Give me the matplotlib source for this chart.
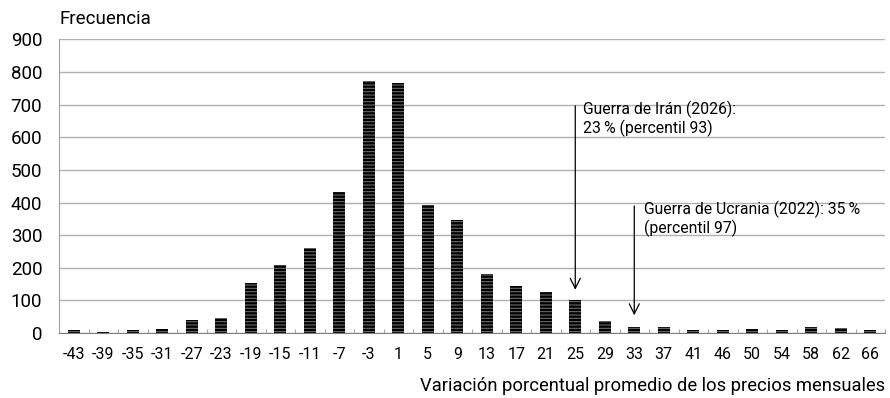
import matplotlib
matplotlib.use("Agg")
import matplotlib.pyplot as plt
import numpy as np

plt.rcParams['font.family'] = ['Roboto', 'DejaVu Sans']
plt.rcParams['hatch.linewidth'] = 0.75

categories = ["-43", "-39", "-35", "-31", "-27", "-23", "-19", "-15", "-11", "-7", "-3", "1", "5", "9",
              "13", "17", "21", "25", "29", "33", "37", "41", "46", "50", "54", "58", "62", "66"]
frequencies = [10, 3, 10, 13, 41, 45, 152, 207, 260, 432, 773, 768, 392, 347,
               182, 145, 125, 100, 36, 18, 17, 9, 10, 11, 9, 17, 15, 8]
y_ticks = [0, 100, 200, 300, 400, 500, 600, 700, 800, 900]

iran_label = "Guerra de Irán (2026):\n23\u2009% (percentil 93)"
iran_cat = "25"
ukr_label = "Guerra de Ucrania (2022): 35\u2009%\n(percentil 97)"
ukr_cat = "33"

fig = plt.figure(figsize=(8.9, 3.98), dpi=100)
ax = fig.add_axes([0.0663, 0.1633, 0.9281, 0.7375])

x = np.arange(len(categories))
ax.bar(x, frequencies, width=0.41, color='black', edgecolor='#707070', hatch='-----', linewidth=0, zorder=3)

ax.set_xlim(-0.5, len(categories) - 0.5)
ax.set_ylim(0, 900)
ax.set_yticks(y_ticks)
ax.set_yticklabels([str(v) for v in y_ticks], fontsize=13.5)
ax.set_xticks(x)
ax.set_xticklabels(categories, fontsize=11.5)
ax.tick_params(axis='x', length=0, pad=10)
ax.tick_params(axis='y', length=0, pad=12)
ax.set_xticks(np.arange(-0.5, len(categories), 1.0), minor=True)
ax.tick_params(axis='x', which='minor', direction='in', length=3, color='#909090')

ax.grid(axis='y', color='#b0b0b0', linewidth=1, zorder=0)
for s in ['top', 'right']:
    ax.spines[s].set_visible(False)
ax.spines['left'].set_color('#a0a0a0')
ax.spines['bottom'].set_color('#808080')

fig.text(0.0663, 0.93, "Frecuencia", fontsize=13.5, ha='left', va='bottom')
fig.text(0.9944, 0.008, "Variación porcentual promedio de los precios mensuales", fontsize=13.2,
         ha='right', va='bottom')

ix = categories.index(iran_cat)
ax.annotate("", xy=(ix, 124), xytext=(ix, 705),
            arrowprops=dict(arrowstyle='->', color='black', lw=0.9, mutation_scale=18))
ax.text(ix + 0.27, 712, iran_label, fontsize=11.3, ha='left', va='top', linespacing=1.15)

uk = categories.index(ukr_cat)
ax.annotate("", xy=(uk, 46), xytext=(uk, 398),
            arrowprops=dict(arrowstyle='->', color='black', lw=0.9, mutation_scale=18))
ax.text(uk + 0.33, 405, ukr_label, fontsize=11.3, ha='left', va='top', linespacing=1.15)

fig.savefig("out.png", dpi=100)
